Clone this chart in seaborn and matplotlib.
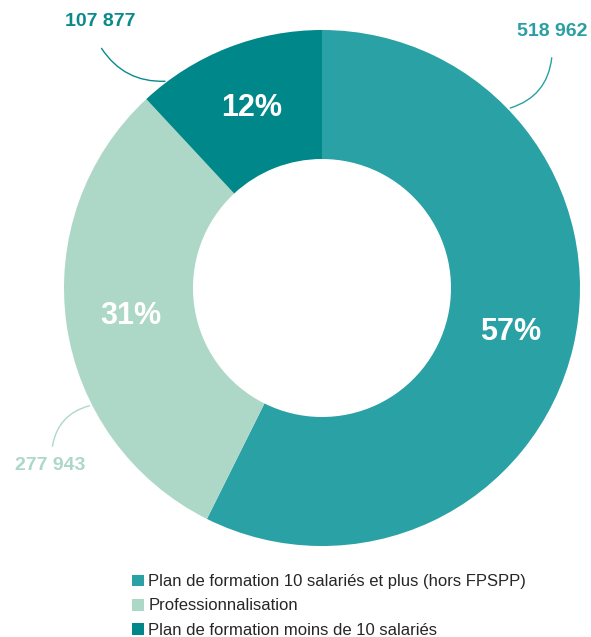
import matplotlib
matplotlib.use('Agg')
import matplotlib.pyplot as plt
import seaborn as sns
import numpy as np

# Data
categories = ['Plan de formation 10 salariés et plus (hors FPSPP)',
              'Professionnalisation',
              'Plan de formation moins de 10 salariés']
values = [518962, 277943, 107877]
value_labels = ['518 962', '277 943', '107 877']
colors = ['#2aa1a4', '#add8c7', '#00878a']
label_colors = ['#2a9fa3', '#add8c7', '#0a8a8a']

sns.set_theme(style='white')
plt.rcParams['font.family'] = ['Liberation Sans', 'DejaVu Sans']

W, H = 591, 637
CX, CY, R = 322, 288, 258


def px(x, y):
    # pixel position -> data coords (pie radius = 1)
    return (x - CX) / R, (CY - y) / R


fig = plt.figure(figsize=(W / 100, H / 100), dpi=100)
ax = fig.add_axes([0, 0, 1, 1])

wedges, texts, autotexts = ax.pie(values, colors=colors, startangle=90, counterclock=False,
                                  radius=1, autopct='%.0f%%', pctdistance=0.75,
                                  wedgeprops=dict(width=0.5, edgecolor='none'),
                                  textprops=dict(color='white', fontsize=22, fontweight='bold'))

x0, y0 = px(0, H)
x1, y1 = px(W, 0)
ax.set_xlim(x0, x1)
ax.set_ylim(y0, y1)
ax.set_aspect('auto')
ax.axis('off')

# value labels with curved connectors
label_pos = [(552, 31), (50, 465), (100, 22)]
line_start = [(552, 55), (52, 449), (100, 46)]
edge_angle = [44, 207, 126.7]
rads = [-0.35, -0.35, 0.3]
for i in range(3):
    ax.text(*px(*label_pos[i]), value_labels[i], color=label_colors[i], fontsize=14,
            fontweight='bold', ha='center', va='center')
    a = np.deg2rad(edge_angle[i])
    ax.annotate('', xy=(np.cos(a), np.sin(a)), xytext=px(*line_start[i]),
                arrowprops=dict(arrowstyle='-', color=label_colors[i], lw=1,
                                connectionstyle='arc3,rad=%s' % rads[i]))

fig.legend(wedges, categories, loc='upper left', bbox_to_anchor=(124 / W, 1 - 566 / H),
           frameon=False, fontsize=12, handlelength=0.7, handleheight=0.7,
           handletextpad=0.25, labelspacing=0.55, borderpad=0)

plt.savefig('out.png', dpi=100)
